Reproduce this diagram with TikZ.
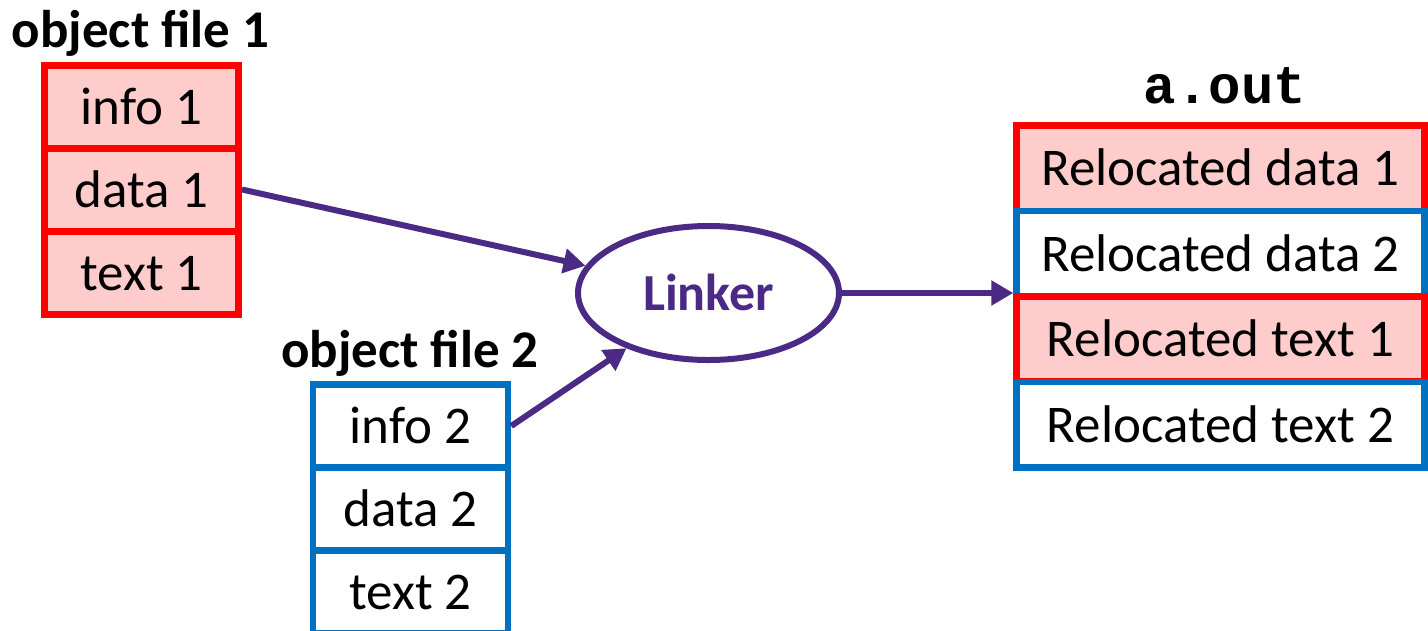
\documentclass[tikz,border=0pt]{standalone}
\usepackage{fontspec}
\setmainfont{Carlito}
\newfontfamily\monofont{Liberation Mono}
\usetikzlibrary{shapes.geometric,arrows.meta}
\definecolor{cred}{HTML}{FF0000}
\definecolor{cpink}{HTML}{FFCCCC}
\definecolor{cblue}{HTML}{0070C0}
\definecolor{cpurple}{HTML}{4B2A85}
\tikzset{
  cellbase/.style={rectangle, draw, inner sep=0pt, text height=45pt, text depth=10pt,
    font=\fontsize{53}{60}\selectfont},
  redcell/.style={cellbase, draw=cred, fill=cpink, line width=7pt},
  bluecell/.style={cellbase, draw=cblue, fill=white, line width=6.5pt},
  title/.style={anchor=base, inner sep=0pt, font=\fontsize{53}{60}\selectfont\bfseries},
  conn/.style={draw=cpurple, line width=6pt, -{Triangle[length=22pt,width=24pt]}},
}
\begin{document}
\begin{tikzpicture}[x=1pt,y=-1pt]
\useasboundingbox (0,0) rectangle (1428,630);
% object file 1
\node[title] (t1) at (140.5,47) {object file 1};
\node[redcell, minimum width=194pt, minimum height=83pt] (info1) at (141.5,106.5) {info 1};
\node[redcell, minimum width=194pt, minimum height=83pt] (data1) at (141.5,189.5) {data 1};
\node[redcell, minimum width=194pt, minimum height=83pt] (text1) at (141.5,272.5) {text 1};
% object file 2
\node[title] (t2) at (410,367) {object file 2};
\node[bluecell, minimum width=195pt, minimum height=83pt] (info2) at (410.5,426) {info 2};
\node[bluecell, minimum width=195pt, minimum height=83pt] (data2) at (410.5,509) {data 2};
\node[bluecell, minimum width=195pt, minimum height=83pt] (text2) at (410.5,592) {text 2};
% a.out
\node[anchor=base, inner sep=0pt, font=\fontsize{54}{60}\selectfont\monofont\bfseries] (aout) at (1225,103) {a.out};
\node[redcell, minimum width=408pt, minimum height=85.5pt] (r1) at (1220.5,168.25) {Relocated data 1};
\node[bluecell, minimum width=408pt, minimum height=85.5pt] (r2) at (1220.5,253.5) {Relocated data 2};
\node[redcell, minimum width=408pt, minimum height=85.5pt] (r3) at (1220.5,339) {Relocated text 1};
\node[bluecell, minimum width=408pt, minimum height=85.5pt] (r4) at (1220.5,424.5) {Relocated text 2};
% linker
\node[ellipse, draw=cpurple, line width=6pt, fill=white, minimum width=261pt, minimum height=134pt,
  inner sep=0pt, text height=45pt, text depth=10pt, text=cpurple,
  font=\fontsize{52}{60}\selectfont\bfseries] (linker) at (708.5,293) {Linker};
% connectors
\draw[conn] (data1.east) -- (linker);
\draw[conn] (info2.east) -- (linker);
\draw[conn] (linker.east) -- (linker.east -| r2.west);
\end{tikzpicture}
\end{document}
